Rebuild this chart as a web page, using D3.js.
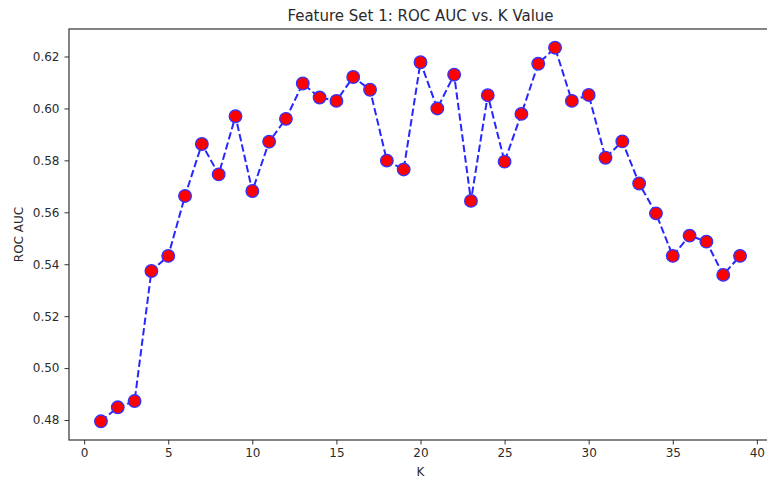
<!DOCTYPE html>
<html>
<head>
<meta charset="utf-8">
<script src="https://cdn.jsdelivr.net/npm/d3@7"></script>
<style>
  html, body { margin: 0; padding: 0; background: #fff; }
  svg { display: block; font-family: "DejaVu Sans", sans-serif; }
</style>
</head>
<body>
<svg id="chart" width="767" height="482"></svg>
<script>
// ---- data ----
const kValues = [1,2,3,4,5,6,7,8,9,10,11,12,13,14,15,16,17,18,19,20,21,22,23,24,25,26,27,28,29,30,31,32,33,34,35,36,37,38,39];
const rocAuc = [0.4795,0.4849,0.4873,0.5374,0.5432,0.5663,0.5863,0.5746,0.5970,0.5682,
                0.5872,0.5960,0.6096,0.6042,0.6029,0.6121,0.6072,0.5799,0.5765,0.6178,
                0.6000,0.6130,0.5644,0.6051,0.5795,0.5979,0.6172,0.6234,0.6029,0.6052,
                0.5810,0.5873,0.5711,0.5596,0.5432,0.5510,0.5487,0.5359,0.5432];
const xTicks = [0,5,10,15,20,25,30,35,40];
const yTicks = [0.48,0.50,0.52,0.54,0.56,0.58,0.60,0.62];
const titleText = "Feature Set 1: ROC AUC vs. K Value";
const xLabel = "K";
const yLabel = "ROC AUC";

// ---- layout ----
const svg = d3.select("#chart");
const mLeft = 69, mRight = 772, mTop = 29, mBottom = 440;
const xMin = d3.min(kValues), xMax = d3.max(kValues);
const xPad = (xMax - xMin) * 0.05;
const yMinV = d3.min(rocAuc), yMaxV = d3.max(rocAuc);
const yPad = (yMaxV - yMinV) * 0.05;
const x = d3.scaleLinear().domain([xMin - xPad, xMax + xPad]).range([mLeft, mRight]);
const y = d3.scaleLinear().domain([yMinV - yPad, yMaxV + yPad]).range([mBottom, mTop]);

const textColor = "#2b2b2b";
const axisColor = "#333";

// axes
const xAxis = svg.append("g")
  .attr("transform", `translate(0,${mBottom})`)
  .call(d3.axisBottom(x).tickValues(xTicks).tickFormat(d3.format("d")).tickSizeOuter(0).tickSize(4.5).tickPadding(4));
const yAxis = svg.append("g")
  .attr("transform", `translate(${mLeft},0)`)
  .call(d3.axisLeft(y).tickValues(yTicks).tickFormat(d3.format(".2f")).tickSizeOuter(0).tickSize(4.5).tickPadding(5));
[xAxis, yAxis].forEach(g => {
  g.select(".domain").remove();
  g.selectAll(".tick line").attr("stroke", axisColor).attr("stroke-width", 1);
  g.selectAll(".tick text").attr("fill", textColor).style("font-size", "12px").style("font-family", "'DejaVu Sans', sans-serif");
});

// frame (spines)
svg.append("rect")
  .attr("x", mLeft).attr("y", mTop)
  .attr("width", mRight - mLeft).attr("height", mBottom - mTop)
  .attr("fill", "none").attr("stroke", axisColor).attr("stroke-width", 1.2);

// clip for the data
svg.append("clipPath").attr("id", "clip")
  .append("rect").attr("x", mLeft).attr("y", mTop).attr("width", mRight - mLeft).attr("height", mBottom - mTop);

const pts = kValues.map((k, i) => ({k, v: rocAuc[i]}));
const line = d3.line().x(d => x(d.k)).y(d => y(d.v));

const plot = svg.append("g").attr("clip-path", "url(#clip)");
plot.append("path")
  .datum(pts)
  .attr("d", line)
  .attr("fill", "none")
  .attr("stroke", "#0000ff")
  .attr("stroke-width", 2)
  .attr("stroke-dasharray", "7.4,3.2")
  .attr("opacity", 0.85);

plot.selectAll("circle")
  .data(pts)
  .enter().append("circle")
  .attr("cx", d => x(d.k))
  .attr("cy", d => y(d.v))
  .attr("r", 6.3)
  .attr("fill", "#ff0000")
  .attr("stroke", "#3333ff")
  .attr("stroke-width", 1.3);

// title and labels
svg.append("text")
  .attr("x", (mLeft + mRight) / 2).attr("y", 21)
  .attr("text-anchor", "middle")
  .attr("fill", textColor)
  .style("font-size", "15px")
  .text(titleText);

svg.append("text")
  .attr("x", (mLeft + mRight) / 2).attr("y", 476)
  .attr("text-anchor", "middle")
  .attr("fill", textColor)
  .style("font-size", "12px")
  .text(xLabel);

svg.append("text")
  .attr("transform", `translate(23,${(mTop + mBottom) / 2}) rotate(-90)`)
  .attr("text-anchor", "middle")
  .attr("fill", textColor)
  .style("font-size", "12px")
  .text(yLabel);
</script>
</body>
</html>
